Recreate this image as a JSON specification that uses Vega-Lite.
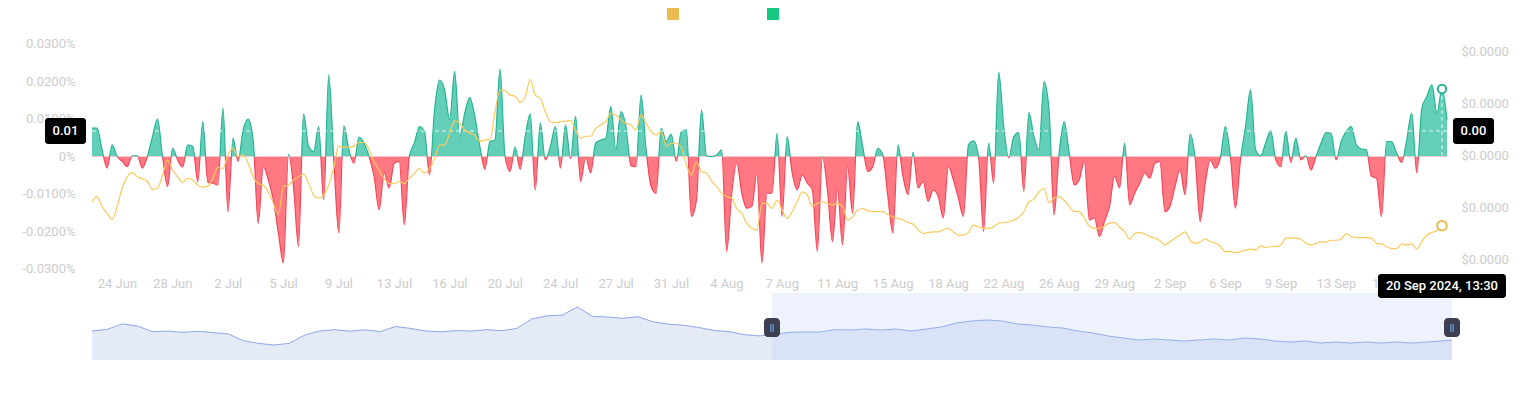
{
"$schema":"https://vega.github.io/schema/vega-lite/v6.json",
"background":"#ffffff",
"width":1530,"height":393,
"autosize":{"type":"fit","contains":"padding"},
"padding":{"left":21,"top":8,"right":21,"bottom":33},
"config":{"view":{"stroke":null},"font":"Roboto","axis":{"domain":false,"ticks":false,"grid":false,"labelColor":"#cccccc","labelFontSize":13,"labelFont":"Roboto","title":null}},
"datasets":{
"main":[
{"t":"2024-06-23T05:30Z","f":7.6e-5,"p":7.12e-6},{"t":"2024-06-23T13:30Z","f":7.6e-5,"p":7.22e-6},{"t":"2024-06-23T21:30Z","f":1.8e-5,"p":7.03e-6},
{"t":"2024-06-24T05:30Z","f":-3.1e-5,"p":6.90e-6},{"t":"2024-06-24T13:30Z","f":3.1e-5,"p":6.78e-6},{"t":"2024-06-24T21:30Z","f":0,"p":7.03e-6},
{"t":"2024-06-25T05:30Z","f":-1.3e-5,"p":7.38e-6},{"t":"2024-06-25T13:30Z","f":-2.7e-5,"p":7.60e-6},{"t":"2024-06-25T21:30Z","f":2e-6,"p":7.68e-6},
{"t":"2024-06-26T05:30Z","f":2e-6,"p":7.60e-6},{"t":"2024-06-26T13:30Z","f":-3.1e-5,"p":7.56e-6},{"t":"2024-06-26T21:30Z","f":0,"p":7.51e-6},
{"t":"2024-06-27T05:30Z","f":5.3e-5,"p":7.36e-6},{"t":"2024-06-27T13:30Z","f":1.0e-4,"p":7.38e-6},{"t":"2024-06-27T21:30Z","f":0,"p":7.63e-6},
{"t":"2024-06-28T05:30Z","f":-8.0e-5,"p":7.92e-6},{"t":"2024-06-28T13:30Z","f":2.2e-5,"p":7.73e-6},{"t":"2024-06-28T21:30Z","f":-9e-6,"p":7.60e-6},
{"t":"2024-06-29T05:30Z","f":-2.8e-5,"p":7.49e-6},{"t":"2024-06-29T13:30Z","f":3.1e-5,"p":7.57e-6},{"t":"2024-06-29T21:30Z","f":2.7e-5,"p":7.54e-6},
{"t":"2024-06-30T05:30Z","f":-6.7e-5,"p":7.44e-6},{"t":"2024-06-30T13:30Z","f":9.3e-5,"p":7.40e-6},{"t":"2024-06-30T21:30Z","f":-6.9e-5,"p":7.42e-6},
{"t":"2024-07-01T05:30Z","f":-7.1e-5,"p":7.57e-6},{"t":"2024-07-01T13:30Z","f":-7.6e-5,"p":7.78e-6},{"t":"2024-07-01T21:30Z","f":1.29e-4,"p":7.76e-6},
{"t":"2024-07-02T05:30Z","f":-1.47e-4,"p":8.02e-6},{"t":"2024-07-02T13:30Z","f":4.9e-5,"p":8.15e-6},{"t":"2024-07-02T21:30Z","f":-1.3e-5,"p":7.99e-6},
{"t":"2024-07-03T05:30Z","f":7.1e-5,"p":8.02e-6},{"t":"2024-07-03T13:30Z","f":1.0e-4,"p":7.86e-6},{"t":"2024-07-03T21:30Z","f":4.4e-5,"p":7.60e-6},
{"t":"2024-07-04T05:30Z","f":-1.78e-4,"p":7.47e-6},{"t":"2024-07-04T13:30Z","f":-2.7e-5,"p":7.44e-6},{"t":"2024-07-04T21:30Z","f":-6.2e-5,"p":7.31e-6},
{"t":"2024-07-05T05:30Z","f":-1.16e-4,"p":7.09e-6},{"t":"2024-07-05T13:30Z","f":-2.04e-4,"p":6.87e-6},{"t":"2024-07-05T21:30Z","f":-2.84e-4,"p":7.41e-6},
{"t":"2024-07-06T05:30Z","f":6e-6,"p":7.44e-6},{"t":"2024-07-06T13:30Z","f":-8.0e-5,"p":7.54e-6},{"t":"2024-07-06T21:30Z","f":-2.4e-4,"p":7.60e-6},
{"t":"2024-07-07T05:30Z","f":1.14e-4,"p":7.65e-6},{"t":"2024-07-07T13:30Z","f":2.7e-5,"p":7.47e-6},{"t":"2024-07-07T21:30Z","f":1.3e-5,"p":7.25e-6},
{"t":"2024-07-08T05:30Z","f":8.0e-5,"p":7.19e-6},{"t":"2024-07-08T13:30Z","f":-1.16e-4,"p":7.25e-6},{"t":"2024-07-08T21:30Z","f":2.18e-4,"p":7.44e-6},
{"t":"2024-07-09T05:30Z","f":-9e-6,"p":7.78e-6},{"t":"2024-07-09T13:30Z","f":-2.04e-4,"p":8.19e-6},{"t":"2024-07-09T21:30Z","f":8.2e-5,"p":8.17e-6},
{"t":"2024-07-10T05:30Z","f":1.8e-5,"p":8.17e-6},{"t":"2024-07-10T13:30Z","f":-1.8e-5,"p":8.19e-6},{"t":"2024-07-10T21:30Z","f":5.2e-5,"p":8.26e-6},
{"t":"2024-07-11T05:30Z","f":3.6e-5,"p":8.26e-6},{"t":"2024-07-11T13:30Z","f":0,"p":8.12e-6},{"t":"2024-07-11T21:30Z","f":-5.3e-5,"p":7.89e-6},
{"t":"2024-07-12T05:30Z","f":-1.42e-4,"p":7.73e-6},{"t":"2024-07-12T13:30Z","f":-4.4e-5,"p":7.57e-6},{"t":"2024-07-12T21:30Z","f":-8.4e-5,"p":7.47e-6},
{"t":"2024-07-13T05:30Z","f":-1.8e-5,"p":7.47e-6},{"t":"2024-07-13T13:30Z","f":-1.3e-5,"p":7.51e-6},{"t":"2024-07-13T21:30Z","f":-1.82e-4,"p":7.47e-6},
{"t":"2024-07-14T05:30Z","f":0,"p":7.57e-6},{"t":"2024-07-14T13:30Z","f":3.6e-5,"p":7.67e-6},{"t":"2024-07-14T21:30Z","f":8.0e-5,"p":7.76e-6},
{"t":"2024-07-15T05:30Z","f":6.7e-5,"p":7.67e-6},{"t":"2024-07-15T13:30Z","f":-4.9e-5,"p":7.76e-6},{"t":"2024-07-15T21:30Z","f":1.24e-4,"p":7.94e-6},
{"t":"2024-07-16T05:30Z","f":2.04e-4,"p":8.21e-6},{"t":"2024-07-16T13:30Z","f":1.78e-4,"p":8.21e-6},{"t":"2024-07-16T21:30Z","f":9.8e-5,"p":8.44e-6},
{"t":"2024-07-17T05:30Z","f":2.27e-4,"p":8.68e-6},{"t":"2024-07-17T13:30Z","f":5.3e-5,"p":8.63e-6},{"t":"2024-07-17T21:30Z","f":1.16e-4,"p":8.50e-6},
{"t":"2024-07-18T05:30Z","f":1.58e-4,"p":8.44e-6},{"t":"2024-07-18T13:30Z","f":1.07e-4,"p":8.40e-6},{"t":"2024-07-18T21:30Z","f":2.7e-5,"p":8.28e-6},
{"t":"2024-07-19T05:30Z","f":-3.4e-5,"p":8.31e-6},{"t":"2024-07-19T13:30Z","f":4.0e-5,"p":8.31e-6},{"t":"2024-07-19T21:30Z","f":4.4e-5,"p":8.85e-6},
{"t":"2024-07-20T05:30Z","f":2.33e-4,"p":9.27e-6},{"t":"2024-07-20T13:30Z","f":0,"p":9.26e-6},{"t":"2024-07-20T21:30Z","f":-4.0e-5,"p":9.17e-6},
{"t":"2024-07-21T05:30Z","f":2.5e-5,"p":9.15e-6},{"t":"2024-07-21T13:30Z","f":-3.4e-5,"p":9.03e-6},{"t":"2024-07-21T21:30Z","f":5.3e-5,"p":9.14e-6},
{"t":"2024-07-22T05:30Z","f":1.14e-4,"p":9.47e-6},{"t":"2024-07-22T13:30Z","f":-8.9e-5,"p":9.17e-6},{"t":"2024-07-22T21:30Z","f":8.9e-5,"p":9.11e-6},
{"t":"2024-07-23T05:30Z","f":-9e-6,"p":8.85e-6},{"t":"2024-07-23T13:30Z","f":2.7e-5,"p":8.66e-6},{"t":"2024-07-23T21:30Z","f":8.0e-5,"p":8.64e-6},
{"t":"2024-07-24T05:30Z","f":-3.1e-5,"p":8.66e-6},{"t":"2024-07-24T13:30Z","f":8.4e-5,"p":8.67e-6},{"t":"2024-07-24T21:30Z","f":-6e-6,"p":8.68e-6},
{"t":"2024-07-25T05:30Z","f":1.07e-4,"p":8.49e-6},{"t":"2024-07-25T13:30Z","f":-6.7e-5,"p":8.34e-6},{"t":"2024-07-25T21:30Z","f":-2e-6,"p":8.38e-6},
{"t":"2024-07-26T05:30Z","f":-4.4e-5,"p":8.38e-6},{"t":"2024-07-26T13:30Z","f":3.6e-5,"p":8.53e-6},{"t":"2024-07-26T21:30Z","f":4.4e-5,"p":8.60e-6},
{"t":"2024-07-27T05:30Z","f":4.9e-5,"p":8.66e-6},{"t":"2024-07-27T13:30Z","f":1.33e-4,"p":8.82e-6},{"t":"2024-07-27T21:30Z","f":1.8e-5,"p":8.79e-6},
{"t":"2024-07-28T05:30Z","f":1.2e-4,"p":8.69e-6},{"t":"2024-07-28T13:30Z","f":8.0e-5,"p":8.63e-6},{"t":"2024-07-28T21:30Z","f":-2.5e-5,"p":8.60e-6},
{"t":"2024-07-29T05:30Z","f":-2.7e-5,"p":8.50e-6},{"t":"2024-07-29T13:30Z","f":1.64e-4,"p":8.79e-6},{"t":"2024-07-29T21:30Z","f":1.8e-5,"p":8.63e-6},
{"t":"2024-07-30T05:30Z","f":-8.0e-5,"p":8.47e-6},{"t":"2024-07-30T13:30Z","f":-9.8e-5,"p":8.40e-6},{"t":"2024-07-30T21:30Z","f":7.6e-5,"p":8.47e-6},
{"t":"2024-07-31T05:30Z","f":4.0e-5,"p":8.19e-6},{"t":"2024-07-31T13:30Z","f":6.0e-5,"p":8.24e-6},{"t":"2024-07-31T21:30Z","f":-1.3e-5,"p":8.24e-6},
{"t":"2024-08-01T05:30Z","f":6.7e-5,"p":8.17e-6},{"t":"2024-08-01T13:30Z","f":7.1e-5,"p":7.83e-6},{"t":"2024-08-01T21:30Z","f":-1.6e-4,"p":7.63e-6},
{"t":"2024-08-02T05:30Z","f":-1.16e-4,"p":7.89e-6},{"t":"2024-08-02T13:30Z","f":1.24e-4,"p":7.70e-6},{"t":"2024-08-02T21:30Z","f":2e-6,"p":7.67e-6},
{"t":"2024-08-03T05:30Z","f":0,"p":7.51e-6},{"t":"2024-08-03T13:30Z","f":4e-6,"p":7.41e-6},{"t":"2024-08-03T21:30Z","f":1.8e-5,"p":7.28e-6},
{"t":"2024-08-04T05:30Z","f":-2.53e-4,"p":7.22e-6},{"t":"2024-08-04T13:30Z","f":-9.8e-5,"p":7.19e-6},{"t":"2024-08-04T21:30Z","f":-1.8e-5,"p":6.99e-6},
{"t":"2024-08-05T05:30Z","f":-9.8e-5,"p":6.90e-6},{"t":"2024-08-05T13:30Z","f":-1.38e-4,"p":6.71e-6},{"t":"2024-08-05T21:30Z","f":-1.33e-4,"p":6.61e-6},
{"t":"2024-08-06T05:30Z","f":-4.4e-5,"p":6.58e-6},{"t":"2024-08-06T13:30Z","f":-2.84e-4,"p":7.09e-6},{"t":"2024-08-06T21:30Z","f":-9.8e-5,"p":7.09e-6},
{"t":"2024-08-07T05:30Z","f":-9.8e-5,"p":6.99e-6},{"t":"2024-08-07T13:30Z","f":6.2e-5,"p":7.15e-6},{"t":"2024-08-07T21:30Z","f":-1.6e-4,"p":6.96e-6},
{"t":"2024-08-08T05:30Z","f":5.3e-5,"p":6.80e-6},{"t":"2024-08-08T13:30Z","f":-4.4e-5,"p":6.93e-6},{"t":"2024-08-08T21:30Z","f":-8.9e-5,"p":7.12e-6},
{"t":"2024-08-09T05:30Z","f":-4.9e-5,"p":7.31e-6},{"t":"2024-08-09T13:30Z","f":-7.1e-5,"p":7.25e-6},{"t":"2024-08-09T21:30Z","f":-8.9e-5,"p":7.03e-6},
{"t":"2024-08-10T05:30Z","f":-2.53e-4,"p":7.09e-6},{"t":"2024-08-10T13:30Z","f":0,"p":7.12e-6},{"t":"2024-08-10T21:30Z","f":-8.9e-5,"p":7.09e-6},
{"t":"2024-08-11T05:30Z","f":-2.27e-4,"p":7.06e-6},{"t":"2024-08-11T13:30Z","f":-8.9e-5,"p":7.09e-6},{"t":"2024-08-11T21:30Z","f":-2.36e-4,"p":7.03e-6},
{"t":"2024-08-12T05:30Z","f":-2.7e-5,"p":6.77e-6},{"t":"2024-08-12T13:30Z","f":-1.51e-4,"p":6.83e-6},{"t":"2024-08-12T21:30Z","f":9.3e-5,"p":6.96e-6},
{"t":"2024-08-13T05:30Z","f":2.7e-5,"p":6.99e-6},{"t":"2024-08-13T13:30Z","f":-4.0e-5,"p":6.95e-6},{"t":"2024-08-13T21:30Z","f":-2.7e-5,"p":6.93e-6},
{"t":"2024-08-14T05:30Z","f":2.2e-5,"p":6.93e-6},{"t":"2024-08-14T13:30Z","f":4e-6,"p":6.93e-6},{"t":"2024-08-14T21:30Z","f":-1.07e-4,"p":6.87e-6},
{"t":"2024-08-15T05:30Z","f":-2.04e-4,"p":6.83e-6},{"t":"2024-08-15T13:30Z","f":3.1e-5,"p":6.80e-6},{"t":"2024-08-15T21:30Z","f":-5.3e-5,"p":6.77e-6},
{"t":"2024-08-16T05:30Z","f":-1.02e-4,"p":6.72e-6},{"t":"2024-08-16T13:30Z","f":1.1e-5,"p":6.69e-6},{"t":"2024-08-16T21:30Z","f":-8.4e-5,"p":6.58e-6},
{"t":"2024-08-17T05:30Z","f":-6.7e-5,"p":6.51e-6},{"t":"2024-08-17T13:30Z","f":-1.2e-4,"p":6.53e-6},{"t":"2024-08-17T21:30Z","f":-8.9e-5,"p":6.54e-6},
{"t":"2024-08-18T05:30Z","f":-1.07e-4,"p":6.54e-6},{"t":"2024-08-18T13:30Z","f":-1.64e-4,"p":6.58e-6},{"t":"2024-08-18T21:30Z","f":-2.7e-5,"p":6.61e-6},
{"t":"2024-08-19T05:30Z","f":-6.2e-5,"p":6.54e-6},{"t":"2024-08-19T13:30Z","f":-1.11e-4,"p":6.48e-6},{"t":"2024-08-19T21:30Z","f":-1.6e-4,"p":6.48e-6},
{"t":"2024-08-20T05:30Z","f":3.1e-5,"p":6.53e-6},{"t":"2024-08-20T13:30Z","f":4.2e-5,"p":6.67e-6},{"t":"2024-08-20T21:30Z","f":0,"p":6.64e-6},
{"t":"2024-08-21T05:30Z","f":-2.0e-4,"p":6.61e-6},{"t":"2024-08-21T13:30Z","f":3.6e-5,"p":6.61e-6},{"t":"2024-08-21T21:30Z","f":-7.1e-5,"p":6.64e-6},
{"t":"2024-08-22T05:30Z","f":2.25e-4,"p":6.71e-6},{"t":"2024-08-22T13:30Z","f":8.0e-5,"p":6.72e-6},{"t":"2024-08-22T21:30Z","f":-4e-6,"p":6.74e-6},
{"t":"2024-08-23T05:30Z","f":5.3e-5,"p":6.77e-6},{"t":"2024-08-23T13:30Z","f":6.4e-5,"p":6.82e-6},{"t":"2024-08-23T21:30Z","f":-9.3e-5,"p":6.93e-6},
{"t":"2024-08-24T05:30Z","f":1.17e-4,"p":7.12e-6},{"t":"2024-08-24T13:30Z","f":5.3e-5,"p":7.17e-6},{"t":"2024-08-24T21:30Z","f":1.8e-5,"p":7.31e-6},
{"t":"2024-08-25T05:30Z","f":2.0e-4,"p":7.38e-6},{"t":"2024-08-25T13:30Z","f":1.24e-4,"p":7.10e-6},{"t":"2024-08-25T21:30Z","f":-1.56e-4,"p":7.19e-6},
{"t":"2024-08-26T05:30Z","f":9e-6,"p":7.22e-6},{"t":"2024-08-26T13:30Z","f":9.3e-5,"p":7.15e-6},{"t":"2024-08-26T21:30Z","f":9e-6,"p":7.03e-6},
{"t":"2024-08-27T05:30Z","f":-7.6e-5,"p":6.93e-6},{"t":"2024-08-27T13:30Z","f":-6.2e-5,"p":6.93e-6},{"t":"2024-08-27T21:30Z","f":-1.3e-5,"p":6.80e-6},
{"t":"2024-08-28T05:30Z","f":-1.69e-4,"p":6.65e-6},{"t":"2024-08-28T13:30Z","f":-1.64e-4,"p":6.61e-6},{"t":"2024-08-28T21:30Z","f":-2.13e-4,"p":6.61e-6},
{"t":"2024-08-29T05:30Z","f":-1.73e-4,"p":6.65e-6},{"t":"2024-08-29T13:30Z","f":-1.33e-4,"p":6.71e-6},{"t":"2024-08-29T21:30Z","f":-5.3e-5,"p":6.72e-6},
{"t":"2024-08-30T05:30Z","f":-8.4e-5,"p":6.63e-6},{"t":"2024-08-30T13:30Z","f":3.6e-5,"p":6.54e-6},{"t":"2024-08-30T21:30Z","f":-1.29e-4,"p":6.40e-6},
{"t":"2024-08-31T05:30Z","f":-9.8e-5,"p":6.51e-6},{"t":"2024-08-31T13:30Z","f":-7.1e-5,"p":6.53e-6},{"t":"2024-08-31T21:30Z","f":-4.4e-5,"p":6.50e-6},
{"t":"2024-09-01T05:30Z","f":-5.8e-5,"p":6.45e-6},{"t":"2024-09-01T13:30Z","f":-1.8e-5,"p":6.42e-6},{"t":"2024-09-01T21:30Z","f":-1.3e-5,"p":6.37e-6},
{"t":"2024-09-02T05:30Z","f":-1.47e-4,"p":6.29e-6},{"t":"2024-09-02T13:30Z","f":-1.33e-4,"p":6.35e-6},{"t":"2024-09-02T21:30Z","f":-8.0e-5,"p":6.42e-6},
{"t":"2024-09-03T05:30Z","f":-3.6e-5,"p":6.48e-6},{"t":"2024-09-03T13:30Z","f":-1.02e-4,"p":6.54e-6},{"t":"2024-09-03T21:30Z","f":6.0e-5,"p":6.38e-6},
{"t":"2024-09-04T05:30Z","f":-4e-6,"p":6.32e-6},{"t":"2024-09-04T13:30Z","f":-1.73e-4,"p":6.35e-6},{"t":"2024-09-04T21:30Z","f":-7.1e-5,"p":6.40e-6},
{"t":"2024-09-05T05:30Z","f":-9e-6,"p":6.35e-6},{"t":"2024-09-05T13:30Z","f":-3.1e-5,"p":6.33e-6},{"t":"2024-09-05T21:30Z","f":-4e-6,"p":6.26e-6},
{"t":"2024-09-06T05:30Z","f":8.0e-5,"p":6.16e-6},{"t":"2024-09-06T13:30Z","f":0,"p":6.16e-6},{"t":"2024-09-06T21:30Z","f":-1.38e-4,"p":6.14e-6},
{"t":"2024-09-07T05:30Z","f":-9e-6,"p":6.16e-6},{"t":"2024-09-07T13:30Z","f":8.0e-5,"p":6.19e-6},{"t":"2024-09-07T21:30Z","f":1.78e-4,"p":6.21e-6},
{"t":"2024-09-08T05:30Z","f":1.8e-5,"p":6.19e-6},{"t":"2024-09-08T13:30Z","f":2e-6,"p":6.27e-6},{"t":"2024-09-08T21:30Z","f":3.6e-5,"p":6.24e-6},
{"t":"2024-09-09T05:30Z","f":6.9e-5,"p":6.26e-6},{"t":"2024-09-09T13:30Z","f":-9e-6,"p":6.26e-6},{"t":"2024-09-09T21:30Z","f":-2.7e-5,"p":6.29e-6},
{"t":"2024-09-10T05:30Z","f":6.7e-5,"p":6.42e-6},{"t":"2024-09-10T13:30Z","f":-1.6e-5,"p":6.42e-6},{"t":"2024-09-10T21:30Z","f":4.9e-5,"p":6.42e-6},
{"t":"2024-09-11T05:30Z","f":-9e-6,"p":6.40e-6},{"t":"2024-09-11T13:30Z","f":2e-6,"p":6.32e-6},{"t":"2024-09-11T21:30Z","f":-3.6e-5,"p":6.29e-6},
{"t":"2024-09-12T05:30Z","f":0,"p":6.32e-6},{"t":"2024-09-12T13:30Z","f":3.6e-5,"p":6.35e-6},{"t":"2024-09-12T21:30Z","f":6.4e-5,"p":6.35e-6},
{"t":"2024-09-13T05:30Z","f":6.2e-5,"p":6.38e-6},{"t":"2024-09-13T13:30Z","f":-9e-6,"p":6.38e-6},{"t":"2024-09-13T21:30Z","f":4.0e-5,"p":6.40e-6},
{"t":"2024-09-14T05:30Z","f":6.7e-5,"p":6.51e-6},{"t":"2024-09-14T13:30Z","f":8.0e-5,"p":6.45e-6},{"t":"2024-09-14T21:30Z","f":3.1e-5,"p":6.43e-6},
{"t":"2024-09-15T05:30Z","f":2.0e-5,"p":6.43e-6},{"t":"2024-09-15T13:30Z","f":1.8e-5,"p":6.43e-6},{"t":"2024-09-15T21:30Z","f":-5.3e-5,"p":6.42e-6},
{"t":"2024-09-16T05:30Z","f":-5.8e-5,"p":6.32e-6},{"t":"2024-09-16T13:30Z","f":-1.6e-4,"p":6.31e-6},{"t":"2024-09-16T21:30Z","f":4.0e-5,"p":6.26e-6},
{"t":"2024-09-17T05:30Z","f":4.0e-5,"p":6.22e-6},{"t":"2024-09-17T13:30Z","f":9e-6,"p":6.22e-6},{"t":"2024-09-17T21:30Z","f":-1.6e-5,"p":6.31e-6},
{"t":"2024-09-18T05:30Z","f":4.4e-5,"p":6.29e-6},{"t":"2024-09-18T13:30Z","f":1.16e-4,"p":6.31e-6},{"t":"2024-09-18T21:30Z","f":-4.4e-5,"p":6.21e-6},
{"t":"2024-09-19T05:30Z","f":1.29e-4,"p":6.35e-6},{"t":"2024-09-19T13:30Z","f":1.6e-4,"p":6.48e-6},{"t":"2024-09-19T21:30Z","f":1.91e-4,"p":6.53e-6},
{"t":"2024-09-20T05:30Z","f":1.16e-4,"p":6.56e-6},{"t":"2024-09-20T13:30Z","f":1.8e-4,"p":6.66e-6},{"t":"2024-09-20T21:30Z","f":9.8e-5,"p":null}
],
"hover":[{"t":"2024-09-20T13:30Z","f":1.8e-4,"p":6.66e-6,"z":0}],
"span":[{"a":"2024-06-23T05:30Z","b":"2024-09-20T21:30Z","z":0,"c":0.000068}],
"leg":[{"s":"Price"},{"s":"Funding Rate"}],
"nav":[
{"t":"2024-03-25T13:30Z","n":29.0},{"t":"2024-03-27T13:30Z","n":30.6},{"t":"2024-03-29T13:30Z","n":36.1},{"t":"2024-03-31T13:30Z","n":33.9},
{"t":"2024-04-02T13:30Z","n":28.3},{"t":"2024-04-04T13:30Z","n":28.9},{"t":"2024-04-06T13:30Z","n":27.6},{"t":"2024-04-08T13:30Z","n":28.7},
{"t":"2024-04-10T13:30Z","n":27.4},{"t":"2024-04-12T13:30Z","n":26.0},{"t":"2024-04-14T13:30Z","n":19.2},{"t":"2024-04-16T13:30Z","n":16.6},
{"t":"2024-04-18T13:30Z","n":15.0},{"t":"2024-04-20T13:30Z","n":16.6},{"t":"2024-04-22T13:30Z","n":24.7},{"t":"2024-04-24T13:30Z","n":29.0},
{"t":"2024-04-26T13:30Z","n":30.3},{"t":"2024-04-28T13:30Z","n":28.8},{"t":"2024-04-30T13:30Z","n":30.2},{"t":"2024-05-02T13:30Z","n":28.3},
{"t":"2024-05-04T13:30Z","n":33.5},{"t":"2024-05-06T13:30Z","n":31.6},{"t":"2024-05-08T13:30Z","n":29.0},{"t":"2024-05-10T13:30Z","n":28.2},
{"t":"2024-05-12T13:30Z","n":29.4},{"t":"2024-05-14T13:30Z","n":28.9},{"t":"2024-05-16T13:30Z","n":30.3},{"t":"2024-05-18T13:30Z","n":29.3},
{"t":"2024-05-20T13:30Z","n":31.6},{"t":"2024-05-22T13:30Z","n":41.0},{"t":"2024-05-24T13:30Z","n":44.2},{"t":"2024-05-26T13:30Z","n":44.9},
{"t":"2024-05-28T13:30Z","n":53.0},{"t":"2024-05-30T13:30Z","n":43.6},{"t":"2024-06-01T13:30Z","n":43.0},{"t":"2024-06-03T13:30Z","n":41.7},
{"t":"2024-06-05T13:30Z","n":43.3},{"t":"2024-06-07T13:30Z","n":38.1},{"t":"2024-06-09T13:30Z","n":35.8},{"t":"2024-06-11T13:30Z","n":34.8},
{"t":"2024-06-13T13:30Z","n":32.5},{"t":"2024-06-15T13:30Z","n":29.6},{"t":"2024-06-17T13:30Z","n":28.3},{"t":"2024-06-19T13:30Z","n":25.4},
{"t":"2024-06-21T13:30Z","n":24.1},{"t":"2024-06-23T13:30Z","n":25.7},{"t":"2024-06-25T13:30Z","n":27.7},{"t":"2024-06-27T13:30Z","n":28.0},
{"t":"2024-06-29T13:30Z","n":28.0},{"t":"2024-07-01T13:30Z","n":30.3},{"t":"2024-07-03T13:30Z","n":30.0},{"t":"2024-07-05T13:30Z","n":31},
{"t":"2024-07-07T13:30Z","n":30},{"t":"2024-07-09T13:30Z","n":31},{"t":"2024-07-11T13:30Z","n":29},{"t":"2024-07-13T13:30Z","n":31},
{"t":"2024-07-15T13:30Z","n":33},{"t":"2024-07-17T13:30Z","n":37},{"t":"2024-07-19T13:30Z","n":39},{"t":"2024-07-21T13:30Z","n":40},
{"t":"2024-07-23T13:30Z","n":39},{"t":"2024-07-25T13:30Z","n":36},{"t":"2024-07-27T13:30Z","n":35},{"t":"2024-07-29T13:30Z","n":33},
{"t":"2024-07-31T13:30Z","n":32},{"t":"2024-08-02T13:30Z","n":29},{"t":"2024-08-04T13:30Z","n":27},{"t":"2024-08-06T13:30Z","n":24},
{"t":"2024-08-08T13:30Z","n":22},{"t":"2024-08-10T13:30Z","n":20},{"t":"2024-08-12T13:30Z","n":21},{"t":"2024-08-14T13:30Z","n":20},
{"t":"2024-08-16T13:30Z","n":19},{"t":"2024-08-18T13:30Z","n":20},{"t":"2024-08-20T13:30Z","n":21},{"t":"2024-08-22T13:30Z","n":20},
{"t":"2024-08-24T13:30Z","n":22},{"t":"2024-08-26T13:30Z","n":21},{"t":"2024-08-28T13:30Z","n":19},{"t":"2024-08-30T13:30Z","n":18},
{"t":"2024-09-01T13:30Z","n":19},{"t":"2024-09-03T13:30Z","n":17},{"t":"2024-09-05T13:30Z","n":18},{"t":"2024-09-07T13:30Z","n":17},
{"t":"2024-09-09T13:30Z","n":18},{"t":"2024-09-11T13:30Z","n":17},{"t":"2024-09-13T13:30Z","n":18},{"t":"2024-09-15T13:30Z","n":17},
{"t":"2024-09-17T13:30Z","n":18},{"t":"2024-09-19T13:30Z","n":19},{"t":"2024-09-20T21:30Z","n":20}
],
"handles":[{"t":"2024-06-23T05:30Z","hi":42,"lo":23,"mid":32.5},{"t":"2024-09-20T21:30Z","hi":42,"lo":23,"mid":32.5}]
},
"resolve":{"scale":{"x":"independent","y":"independent"}},
"layer":[
{"layer":[
{"data":{"name":"nav"},"mark":{"type":"area","color":"#e5eaf7","opacity":1},
 "encoding":{"x":{"field":"t","type":"temporal","axis":null,"scale":{"type":"utc","domain":[{"year":2024,"month":3,"date":25,"hours":13,"minutes":30,"utc":true},{"year":2024,"month":9,"date":20,"hours":21,"minutes":30,"utc":true}]}},
  "y":{"field":"n","type":"quantitative","axis":null,"scale":{"domain":[0,352],"nice":false,"zero":false}}}},
{"data":{"name":"nav"},"mark":{"type":"line","color":"#8ea7ea","strokeWidth":1},
 "encoding":{"x":{"field":"t","type":"temporal"},"y":{"field":"n","type":"quantitative"}}},
{"data":{"values":[{"a":"2024-06-23T05:30Z","b":"2024-09-20T21:30Z","lo":0,"hi":67}]},"mark":{"type":"rect","color":"#b6c8f6","opacity":0.24},
 "encoding":{"x":{"field":"a","type":"temporal"},"x2":{"field":"b"},"y":{"field":"lo","type":"quantitative"},"y2":{"field":"hi"}}},
{"data":{"name":"handles"},"mark":{"type":"bar","color":"#3b3f51","width":16,"cornerRadius":4},
 "encoding":{"x":{"field":"t","type":"temporal"},"y":{"field":"hi","type":"quantitative"},"y2":{"field":"lo"}}},
{"data":{"name":"handles"},"mark":{"type":"text","color":"#c9cdd6","fontSize":9,"align":"center","baseline":"middle","text":"||"},
 "encoding":{"x":{"field":"t","type":"temporal"},"y":{"field":"mid","type":"quantitative"}}}
]},
{"resolve":{"scale":{"y":"independent"}},
"layer":[
{"layer":[
{"data":{"name":"main"},
 "mark":{"type":"area","interpolate":"monotone","fill":{"gradient":"linear","x1":0,"y1":0,"x2":0,"y2":1,"stops":[{"offset":0,"color":"#63cfb9"},{"offset":0.45068,"color":"#63cfb9"},{"offset":0.45068,"color":"#ff7882"},{"offset":1,"color":"#ff7882"}]}},
 "encoding":{
  "x":{"field":"t","type":"temporal","scale":{"type":"utc","domain":[{"year":2024,"month":6,"date":23,"hours":5,"minutes":30,"utc":true},{"year":2024,"month":9,"date":21,"hours":5,"minutes":26,"utc":true}]},
   "axis":{"orient":"bottom","offset":-91,"format":"%-d %b","labelPadding":8,"labelOverlap":false,"labelFlush":false,"title":null,"values":[
    {"year":2024,"month":6,"date":24,"hours":21,"utc":true},{"year":2024,"month":6,"date":28,"hours":13,"utc":true},{"year":2024,"month":7,"date":2,"hours":5,"utc":true},
    {"year":2024,"month":7,"date":5,"hours":21,"utc":true},{"year":2024,"month":7,"date":9,"hours":13,"utc":true},{"year":2024,"month":7,"date":13,"hours":5,"utc":true},
    {"year":2024,"month":7,"date":16,"hours":21,"utc":true},{"year":2024,"month":7,"date":20,"hours":13,"utc":true},{"year":2024,"month":7,"date":24,"hours":5,"utc":true},
    {"year":2024,"month":7,"date":27,"hours":21,"utc":true},{"year":2024,"month":7,"date":31,"hours":13,"utc":true},{"year":2024,"month":8,"date":4,"hours":5,"utc":true},
    {"year":2024,"month":8,"date":7,"hours":21,"utc":true},{"year":2024,"month":8,"date":11,"hours":13,"utc":true},{"year":2024,"month":8,"date":15,"hours":5,"utc":true},
    {"year":2024,"month":8,"date":18,"hours":21,"utc":true},{"year":2024,"month":8,"date":22,"hours":13,"utc":true},{"year":2024,"month":8,"date":26,"hours":5,"utc":true},
    {"year":2024,"month":8,"date":29,"hours":21,"utc":true},{"year":2024,"month":9,"date":2,"hours":13,"utc":true},{"year":2024,"month":9,"date":6,"hours":5,"utc":true},
    {"year":2024,"month":9,"date":9,"hours":21,"utc":true},{"year":2024,"month":9,"date":13,"hours":13,"utc":true},{"year":2024,"month":9,"date":17,"hours":5,"utc":true}]}},
  "y":{"field":"f","type":"quantitative","scale":{"domain":[-0.00054267,0.000396],"nice":false,"zero":false},
   "axis":{"orient":"left","values":[-0.0003,-0.0002,-0.0001,0,0.0001,0.0002,0.0003],"labelPadding":12,"title":null,
    "labelExpr":"datum.value == 0 ? '0%' : replace(format(datum.value, '.4%'), '\u2212', '-')"}}
 }},
{"data":{"name":"span"},"mark":{"type":"rule","color":"#f9c8cc","strokeWidth":1},"encoding":{"x":{"field":"a","type":"temporal"},"x2":{"field":"b"},"y":{"field":"z","type":"quantitative"}}},
{"data":{"name":"main"},
 "mark":{"type":"line","interpolate":"monotone","strokeWidth":1.2,"stroke":{"gradient":"linear","x1":0,"y1":0,"x2":0,"y2":1,"stops":[{"offset":0,"color":"#26b593"},{"offset":0.45068,"color":"#26b593"},{"offset":0.45068,"color":"#f4475b"},{"offset":1,"color":"#f4475b"}]}},
 "encoding":{"x":{"field":"t","type":"temporal"},"y":{"field":"f","type":"quantitative"}}},
{"data":{"name":"span"},"mark":{"type":"rule","color":"#ffffff","strokeDash":[4,3],"strokeWidth":1,"opacity":0.85},"encoding":{"x":{"field":"a","type":"temporal"},"x2":{"field":"b"},"y":{"field":"c","type":"quantitative"}}},
{"data":{"name":"hover"},"mark":{"type":"rule","color":"#ffffff","strokeDash":[4,3],"strokeWidth":1,"opacity":0.85},"encoding":{"x":{"field":"t","type":"temporal"},"y":{"field":"f","type":"quantitative"},"y2":{"field":"z"}}},
{"data":{"name":"hover"},"mark":{"type":"point","filled":true,"fill":"#ffffff","stroke":"#26b593","strokeWidth":2,"size":70,"opacity":1},"encoding":{"x":{"field":"t","type":"temporal"},"y":{"field":"f","type":"quantitative"}}},
{"data":{"values":[{"t":"2024-06-23T05:30Z","a":0.00010267,"b":0.0000333}]},"mark":{"type":"bar","color":"#000000","width":41,"cornerRadius":3,"xOffset":-26.5},
 "encoding":{"x":{"field":"t","type":"temporal"},"y":{"field":"a","type":"quantitative"},"y2":{"field":"b"}}},
{"data":{"values":[{"t":"2024-06-23T05:30Z","c":0.000068,"l":"0.01"}]},"mark":{"type":"text","color":"#ffffff","fontSize":13,"fontWeight":500,"dx":-26.5,"align":"center","baseline":"middle"},
 "encoding":{"x":{"field":"t","type":"temporal"},"y":{"field":"c","type":"quantitative"},"text":{"field":"l"}}},
{"data":{"values":[{"t":"2024-09-20T21:30Z","a":0.00010267,"b":0.0000333}]},"mark":{"type":"bar","color":"#000000","width":41,"cornerRadius":3,"xOffset":26.5},
 "encoding":{"x":{"field":"t","type":"temporal"},"y":{"field":"a","type":"quantitative"},"y2":{"field":"b"}}},
{"data":{"values":[{"t":"2024-09-20T21:30Z","c":0.000068,"l":"0.00"}]},"mark":{"type":"text","color":"#ffffff","fontSize":13,"fontWeight":500,"dx":26.5,"align":"center","baseline":"middle"},
 "encoding":{"x":{"field":"t","type":"temporal"},"y":{"field":"c","type":"quantitative"},"text":{"field":"l"}}},
{"data":{"values":[{"t":"2024-09-20T13:30Z","a":-0.00031333,"b":-0.00037733}]},"mark":{"type":"bar","color":"#000000","width":128,"cornerRadius":3},
 "encoding":{"x":{"field":"t","type":"temporal"},"y":{"field":"a","type":"quantitative"},"y2":{"field":"b"}}},
{"data":{"values":[{"t":"2024-09-20T13:30Z","c":-0.00034533,"l":"20 Sep 2024, 13:30"}]},"mark":{"type":"text","color":"#ffffff","fontSize":13,"fontWeight":500,"align":"center","baseline":"middle"},
 "encoding":{"x":{"field":"t","type":"temporal"},"y":{"field":"c","type":"quantitative"},"text":{"field":"l"}}}
]},
{"layer":[
{"data":{"name":"main"},"mark":{"type":"line","interpolate":"monotone","color":"#fcc95c","strokeWidth":1.2},
 "encoding":{"x":{"field":"t","type":"temporal"},
  "y":{"field":"p","type":"quantitative","scale":{"domain":[0.00000407692,0.00001084615],"nice":false,"zero":false},
   "axis":{"orient":"right","values":[0.000006,0.000007,0.000008,0.000009,0.00001],"labelPadding":4,"title":null,"labelExpr":"'$' + format(datum.value, '.4f')"}}}},
{"data":{"name":"hover"},"mark":{"type":"point","filled":true,"fill":"#ffffff","stroke":"#ebb94b","strokeWidth":2,"size":90,"opacity":1},
 "encoding":{"x":{"field":"t","type":"temporal"},"y":{"field":"p","type":"quantitative"}}},
{"data":{"name":"leg"},"mark":{"type":"square","opacity":0},
 "encoding":{"color":{"field":"s","type":"nominal","scale":{"domain":["Price","Funding Rate"],"range":["#ebbb4f","#17c784"]},
  "legend":{"orient":"none","legendX":580,"legendY":0,"direction":"horizontal","title":null,"symbolType":"square","symbolSize":144,"symbolOpacity":1,"symbolStrokeWidth":0,"labelColor":"#ffffff","labelFontSize":12,"labelOffset":5,"columnPadding":55,"padding":0}}}}
]}
]}
]
}
